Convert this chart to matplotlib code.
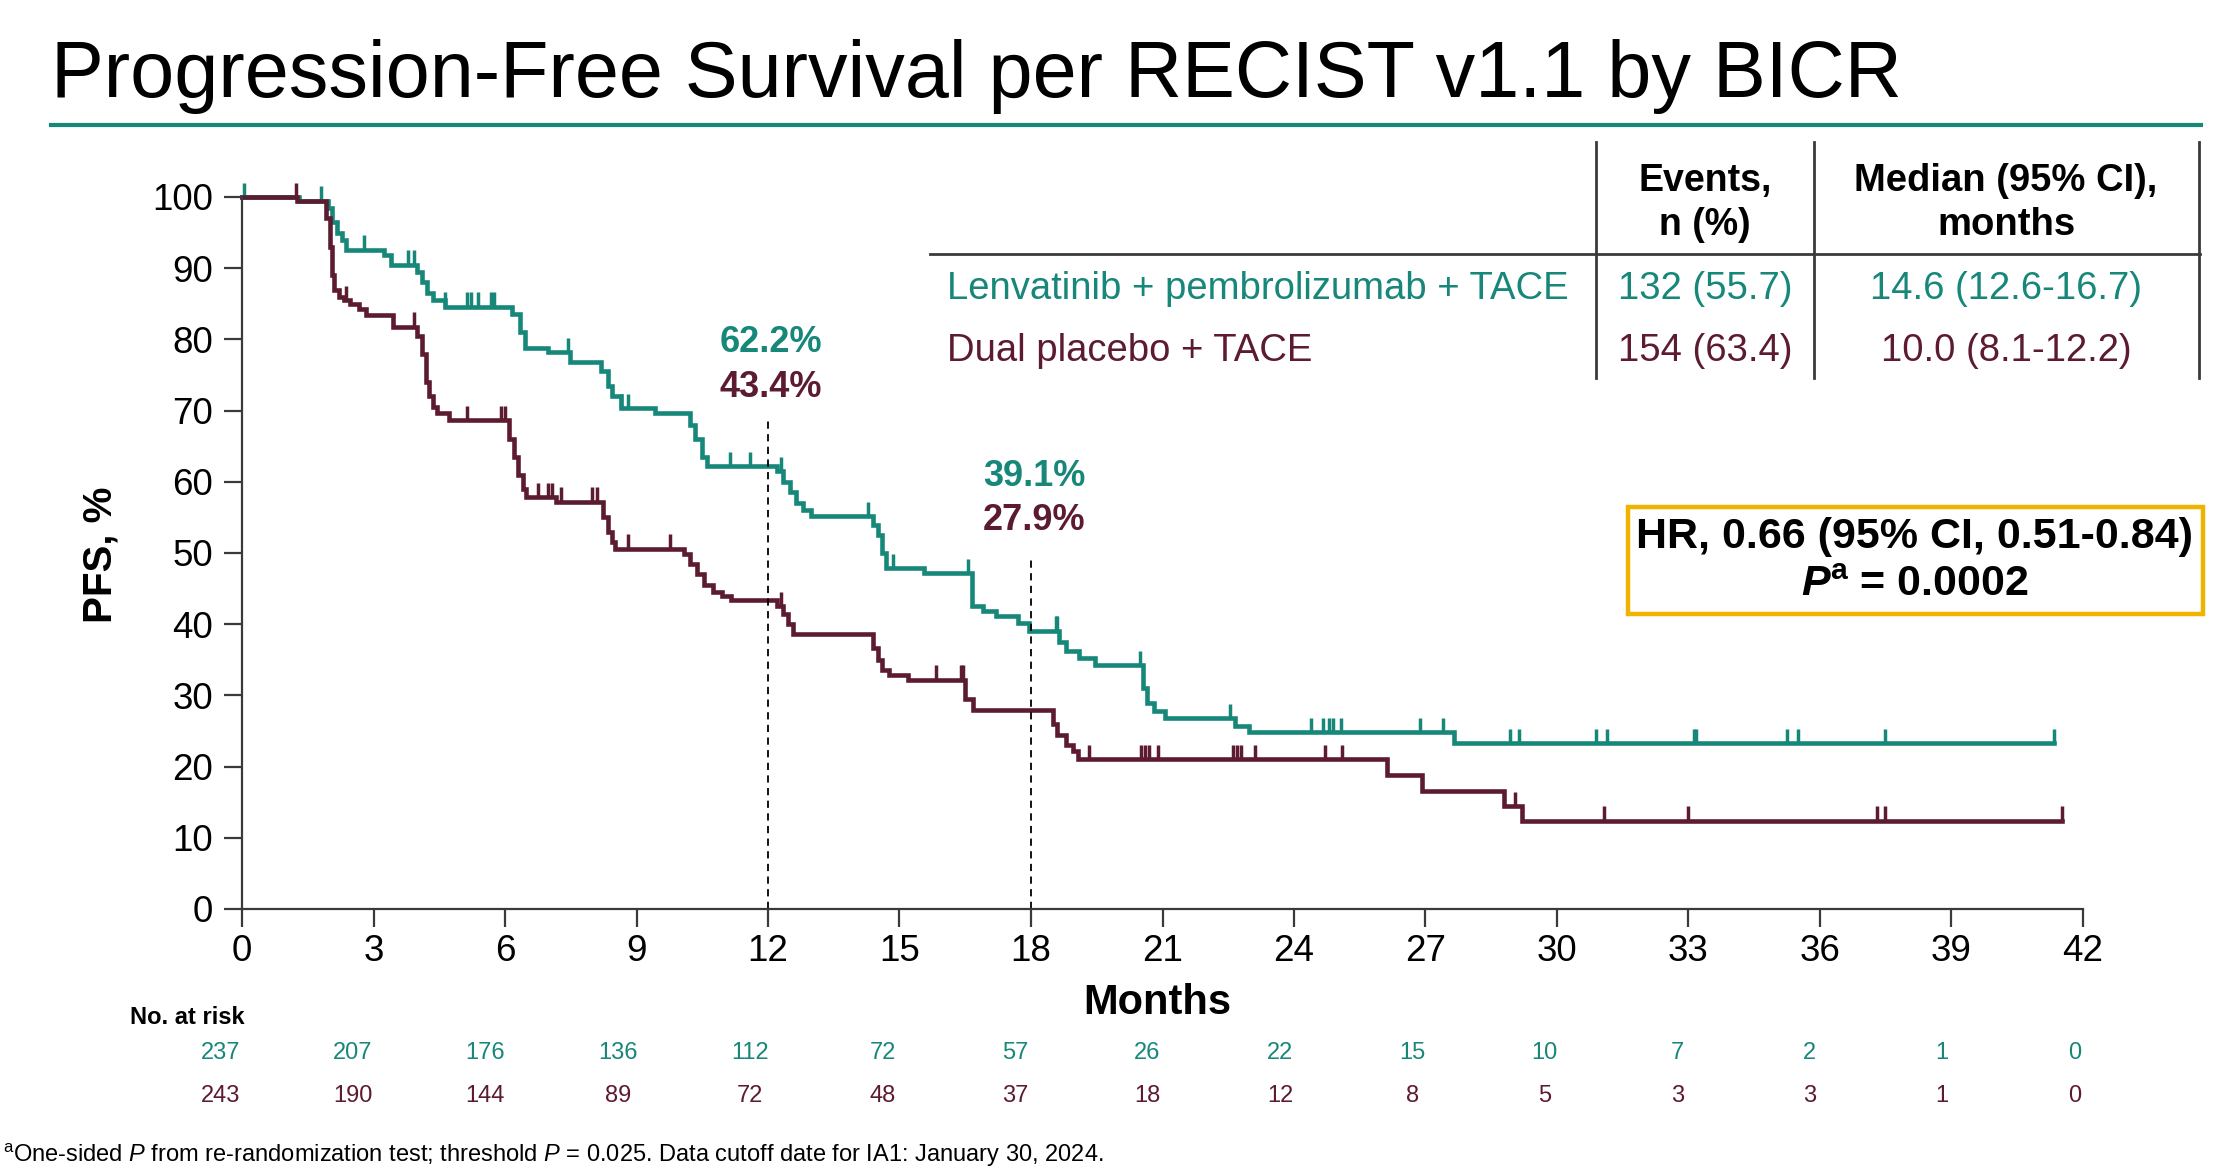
#!/usr/bin/env python3
"""Kaplan-Meier style PFS plot: lenvatinib + pembrolizumab + TACE vs dual placebo + TACE"""
import numpy as np
import matplotlib
matplotlib.use('Agg')
import matplotlib.pyplot as plt
from matplotlib.lines import Line2D
from matplotlib.patches import Rectangle

plt.rcParams['font.family'] = ['Liberation Sans', 'DejaVu Sans']
plt.rcParams['mathtext.fontset'] = 'custom'
plt.rcParams['mathtext.rm'] = 'Liberation Sans'
plt.rcParams['mathtext.it'] = 'Liberation Sans:italic'
plt.rcParams['mathtext.bf'] = 'Liberation Sans:bold'
plt.rcParams['mathtext.bfit'] = 'Liberation Sans:bold:italic'

TEAL = '#17877A'
MAROON = '#5C1B2F'

# Lenvatinib + pembrolizumab + TACE (step starts, months / PFS %)
len_t = [0, 1.3, 1.96, 2.06, 2.17, 2.27, 2.37, 3.24, 3.39, 4.0, 4.1, 4.21, 4.36, 4.62,
         6.15, 6.35, 6.46, 6.97, 7.48, 8.19, 8.35, 8.45, 8.65, 9.42, 10.23, 10.34,
         10.49, 10.6, 12.2, 12.35, 12.5, 12.65, 12.8, 12.97, 14.4, 14.5, 14.6, 14.7,
         15.55, 16.65, 16.9, 17.2, 17.7, 17.95, 18.65, 18.8, 19.1, 19.47, 20.55,
         20.65, 20.8, 21.05, 22.65, 22.98, 27.64, 41.34]
len_s = [100, 99.5, 98.5, 96.5, 95, 94, 92.6, 91.8, 90.5, 89.5, 88, 86.5, 85.5, 84.6,
         83.5, 81, 78.8, 78.2, 76.8, 75.5, 73.5, 72, 70.3, 69.7, 68, 66,
         63.5, 62.2, 61.5, 60, 58.5, 57, 56, 55.2, 54, 52.5, 50, 47.9,
         47.2, 42.5, 41.8, 41.1, 40.2, 39.1, 37.5, 36.3, 35.3, 34.3, 31,
         29, 27.8, 26.8, 25.7, 24.8, 23.3, 23.3]
len_cens = [0.05, 1.81, 2.78, 3.78, 3.92, 4.62, 5.13, 5.23, 5.38, 5.69, 5.74, 7.43,
            8.65, 8.8, 11.13, 11.59, 12.3, 14.29, 14.85, 16.57, 18.56, 18.6, 20.49,
            22.55, 24.38, 24.67, 24.79, 24.9, 25.08, 26.88, 27.41, 28.92, 29.13,
            30.9, 31.13, 33.12, 33.17, 35.24, 35.5, 37.49, 41.34]

# Dual placebo + TACE
pbo_t = [0, 1.25, 1.91, 2.01, 2.06, 2.11, 2.22, 2.32, 2.47, 2.68, 2.83, 3.44, 4.0,
         4.1, 4.19, 4.26, 4.36, 4.46, 4.72, 6.1, 6.2, 6.3, 6.4, 6.48, 7.17, 8.24,
         8.35, 8.45, 8.5, 10.08, 10.23, 10.39, 10.54, 10.75, 10.95, 11.15, 12.2,
         12.35, 12.45, 12.56, 14.4, 14.5, 14.6, 14.75, 15.2, 16.5, 16.68, 18.5,
         18.6, 18.8, 18.95, 19.07, 26.13, 26.92, 28.8, 29.2, 41.51]
pbo_s = [100, 99.5, 97, 93, 89, 87, 86, 85.5, 85, 84.3, 83.4, 81.8, 80.5,
         78, 74, 72, 70.5, 69.7, 68.7, 66, 63.5, 61, 59, 57.8, 57.2, 55,
         53, 51.5, 50.6, 49.8, 48.5, 47, 45.5, 44.5, 43.9, 43.4, 42.5,
         41.5, 40, 38.6, 36.7, 35, 33.5, 32.8, 32.2, 29.5, 28, 26,
         24.5, 23, 22.2, 21.1, 18.8, 16.6, 14.5, 12.4, 12.4]
pbo_cens = [1.23, 2.37, 3.92, 5.13, 5.9, 6.0, 6.76, 6.97, 7.07, 7.27, 7.99, 8.09,
            8.8, 9.77, 12.3, 15.83, 16.4, 16.45, 19.32, 20.5, 20.6, 20.7, 20.9,
            22.6, 22.7, 22.8, 23.1, 24.7, 25.1, 29.04, 31.08, 33.0, 37.3, 37.49, 41.51]

risk_months = [0, 3, 6, 9, 12, 15, 18, 21, 24, 27, 30, 33, 36, 39, 42]
len_risk = [237, 207, 176, 136, 112, 72, 57, 26, 22, 15, 10, 7, 2, 1, 0]
pbo_risk = [243, 190, 144, 89, 72, 48, 37, 18, 12, 8, 5, 3, 3, 1, 0]

landmarks = [12, 18]
len_landmark = ['62.2%', '39.1%']
pbo_landmark = ['43.4%', '27.9%']
landmark_top = [69, 49]
label_y = [79.6, 60.8]

W, H = 2234, 1172


def px(x, y):
    return x / W, 1 - y / H


fig = plt.figure(figsize=(W / 100, H / 100), dpi=100)
ax = fig.add_axes([242 / W, 1 - 909 / H, (2083 - 242) / W, (909 - 197) / H])


def surv_at(t, times, surv):
    i = np.searchsorted(times, t, side='right') - 1
    return np.asarray(surv)[i]


for times, surv, cens, col in [(len_t, len_s, len_cens, TEAL),
                               (pbo_t, pbo_s, pbo_cens, MAROON)]:
    ax.step(times, surv, where='post', color=col, lw=3.3, clip_on=False,
            solid_joinstyle='miter')
    h = surv_at(np.array(cens), times, surv)
    ax.vlines(cens, h, h + 2.0, color=col, lw=2.5, clip_on=False)

for x, top in zip(landmarks, landmark_top):
    ax.plot([x, x], [0, top], color='black', lw=1.3, ls=(0, (4, 3)))

for x, a, b, y in zip(landmarks, len_landmark, pbo_landmark, label_y):
    ax.text(x + 0.07, y, a, color=TEAL, fontsize=26, fontweight='bold',
            ha='center', va='center')
    ax.text(x + 0.07, y - 6.3, b, color=MAROON, fontsize=26, fontweight='bold',
            ha='center', va='center')

ax.set_xlim(0, 42)
ax.set_ylim(0, 100)
ax.set_xticks(risk_months)
ax.set_yticks(range(0, 101, 10))
for s in ['top', 'right']:
    ax.spines[s].set_visible(False)
for s in ['left', 'bottom']:
    ax.spines[s].set_color('#3a3a3a')
    ax.spines[s].set_linewidth(1.6)
ax.tick_params(axis='both', colors='#3a3a3a', labelcolor='black', labelsize=26.5,
               length=13, width=1.6)
ax.tick_params(axis='x', pad=5)
ax.tick_params(axis='y', pad=8)

fig.text(*px(100, 555), 'PFS, %', rotation=90, fontsize=29, fontweight='bold',
         ha='center', va='center')
fig.text(*px(1157, 1003), 'Months', fontsize=30, fontweight='bold',
         ha='center', va='center')

# title + underline
fig.text(*px(51, 97), 'Progression-Free Survival per RECIST v1.1 by BICR',
         fontsize=57, ha='left', va='baseline')
fig.add_artist(Line2D([51 / W, 2201 / W], [1 - 125 / H] * 2, color=TEAL, lw=3))

# summary table
fig.add_artist(Line2D([930 / W, 2200 / W], [1 - 254 / H] * 2, color='#3a3a3a', lw=2))
for xl in [1596, 1814, 2199]:
    fig.add_artist(Line2D([xl / W] * 2, [1 - 142 / H, 1 - 378 / H], color='#3a3a3a', lw=2))
fig.text(*px(1705, 203), 'Events,\nn (%)', fontsize=27, fontweight='bold',
         ha='center', va='center', linespacing=1.3)
fig.text(*px(2006, 203), 'Median (95% CI),\nmonths', fontsize=27.5, fontweight='bold',
         ha='center', va='center', linespacing=1.3)
rows = [('Lenvatinib + pembrolizumab + TACE', '132 (55.7)', '14.6 (12.6-16.7)', TEAL, 289),
        ('Dual placebo + TACE', '154 (63.4)', '10.0 (8.1-12.2)', MAROON, 351)]
for name, ev, med, col, y in rows:
    fig.text(*px(947, y), name, fontsize=27.5, color=col, ha='left', va='center')
    fig.text(*px(1705, y), ev, fontsize=27.5, color=col, ha='center', va='center')
    fig.text(*px(2006, y), med, fontsize=27.5, color=col, ha='center', va='center')

# HR box
fig.add_artist(Rectangle(px(1628, 614), (2203 - 1628) / W, (614 - 507) / H,
                         fill=False, edgecolor='#F0B400', lw=3.2))
fig.text(*px(1915, 537), 'HR, 0.66 (95% CI, 0.51-0.84)', fontsize=31,
         fontweight='bold', ha='center', va='center')
fig.text(*px(1915, 585), r'$\mathbfit{P}^{\mathbf{a}}$ = 0.0002', fontsize=31,
         fontweight='bold', ha='center', va='center')

# number at risk
fig.text(*px(130, 1017), 'No. at risk', fontsize=17, fontweight='bold',
         ha='left', va='center')
for m, a, b in zip(risk_months, len_risk, pbo_risk):
    xf = (242 + (m * 1.007 - 0.49) * (2083 - 242) / 42) / W
    fig.text(xf, 1 - 1053 / H, str(a), color=TEAL, fontsize=17, ha='center', va='center')
    fig.text(xf, 1 - 1096 / H, str(b), color=MAROON, fontsize=17, ha='center', va='center')

fig.text(*px(3, 1155), r'${}^{\mathrm{a}}$One-sided $\mathit{P}$ from re-randomization test; '
         r'threshold $\mathit{P}$ = 0.025. Data cutoff date for IA1: January 30, 2024.',
         fontsize=17, ha='left', va='center')

fig.savefig('out.png', dpi=100)
